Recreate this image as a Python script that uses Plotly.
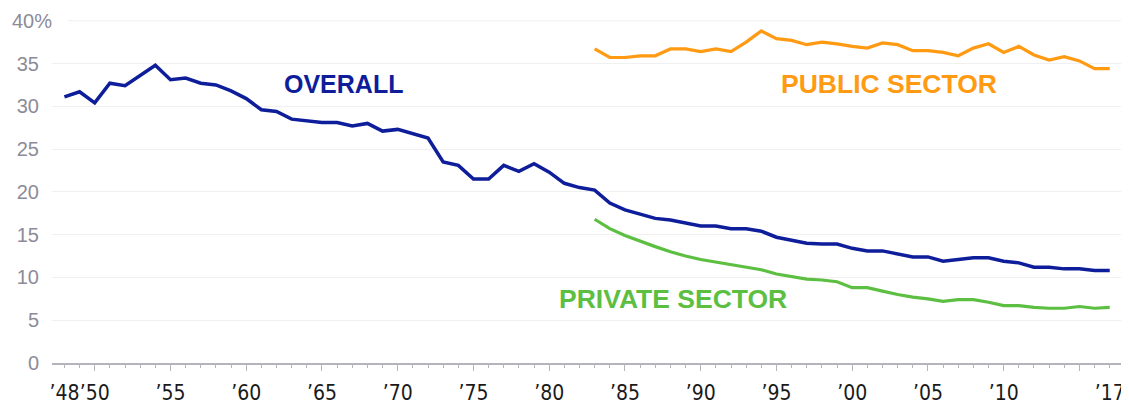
import plotly.graph_objects as go

years = list(range(1948, 2018))
overall = [31.1, 31.7, 30.4, 32.7, 32.4, 33.6, 34.8, 33.1, 33.3, 32.7,
           32.5, 31.8, 30.9, 29.6, 29.4, 28.5, 28.3, 28.1, 28.1, 27.7,
           28.0, 27.1, 27.3, 26.8, 26.3, 23.5, 23.1, 21.5, 21.5, 23.1,
           22.4, 23.3, 22.3, 21.0, 20.5, 20.2, 18.7, 17.9, 17.4, 16.9,
           16.7, 16.3, 16.0, 16.0, 15.7, 15.7, 15.4, 14.7, 14.4, 14.0,
           13.9, 13.9, 13.4, 13.1, 13.1, 12.7, 12.4, 12.4, 11.9, 12.1,
           12.3, 12.3, 11.9, 11.7, 11.2, 11.2, 11.0, 11.0, 10.8, 10.8]
sector_years = list(range(1983, 2018))
public = [36.7, 35.7, 35.7, 35.9, 35.9, 36.7, 36.7, 36.4, 36.7, 36.4,
          37.5, 38.8, 37.9, 37.7, 37.2, 37.5, 37.3, 37.0, 36.8, 37.4,
          37.2, 36.5, 36.5, 36.3, 35.9, 36.8, 37.3, 36.3, 37.0, 36.0,
          35.4, 35.8, 35.3, 34.4, 34.4]
private = [16.8, 15.7, 14.9, 14.2, 13.6, 13.0, 12.5, 12.1, 11.8, 11.5,
           11.2, 10.9, 10.4, 10.1, 9.8, 9.7, 9.5, 8.8, 8.8, 8.4,
           8.0, 7.7, 7.5, 7.2, 7.4, 7.4, 7.1, 6.7, 6.7, 6.5,
           6.4, 6.4, 6.6, 6.4, 6.5]

label_years = [1948, 1950, 1955, 1960, 1965, 1970, 1975, 1980, 1985, 1990,
               1995, 2000, 2005, 2010, 2017]
label_text = ["\u201948", "\u201950", "\u201955", "\u201960", "\u201965", "\u201970",
              "\u201975", "\u201980", "\u201985", "\u201990", "\u201995", "\u201900",
              "\u201905", "\u201910", "\u201917"]
major_tick_years = list(range(1950, 2016, 5))
y_ticks = [0, 5, 10, 15, 20, 25, 30, 35]

C_OVERALL = "#0e1d9a"
C_PUBLIC = "#ff9a12"
C_PRIVATE = "#5dbf42"

fig = go.Figure()
fig.add_trace(go.Scatter(x=years, y=overall, mode="lines",
                         line=dict(color=C_OVERALL, width=3.5), hoverinfo="skip"))
fig.add_trace(go.Scatter(x=sector_years, y=public, mode="lines",
                         line=dict(color=C_PUBLIC, width=3.2), hoverinfo="skip"))
fig.add_trace(go.Scatter(x=sector_years, y=private, mode="lines",
                         line=dict(color=C_PRIVATE, width=3.2), hoverinfo="skip"))
# invisible trace to materialise the tick-only axis
fig.add_trace(go.Scatter(x=[1960], y=[0], xaxis="x2", mode="markers",
                         marker=dict(opacity=0), hoverinfo="skip", showlegend=False))

xr = [1947.18, 2018.14]
fam = "Liberation Sans, Arial, sans-serif"

# page body has an 8px default margin, so the figure is 8px smaller
fig.update_layout(
    width=1121, height=397,
    margin=dict(l=44, r=2, t=11, b=42, autoexpand=False),
    paper_bgcolor="white", plot_bgcolor="white",
    showlegend=False,
    xaxis=dict(range=xr, tickmode="array", tickvals=label_years, ticktext=label_text,
               ticks="outside", ticklen=10, tickcolor="rgba(0,0,0,0)",
               tickangle=0, automargin=False, ticklabeloverflow="allow",
               tickfont=dict(family="DejaVu Sans Condensed, Liberation Sans Narrow, Arial, sans-serif",
                             size=21, color="#1a1a1a"),
               showgrid=False, zeroline=False, showline=True, linecolor="#b4b4bc",
               linewidth=1.5, fixedrange=True),
    xaxis2=dict(range=xr, overlaying="x", anchor="y", side="bottom",
                tickmode="array", tickvals=major_tick_years, ticks="outside",
                ticklen=7, tickcolor="#b4b4bc", tickwidth=1.2, showticklabels=False,
                minor=dict(tickmode="linear", tick0=1948, dtick=1, ticks="outside",
                           ticklen=4, tickcolor="#b4b4bc", tickwidth=1, showgrid=False),
                showgrid=False, zeroline=False, showline=False, automargin=False),
    yaxis=dict(range=[0, 40.2], tickmode="array", tickvals=y_ticks,
               ticktext=[str(v) for v in y_ticks], automargin=False,
               tickfont=dict(family=fam, size=20, color="#8c8b98"),
               ticklabelstandoff=12, showgrid=True, gridcolor="#f0f0f0", gridwidth=1,
               zeroline=False, showline=False, fixedrange=True),
)

fig.add_shape(type="line", xref="paper", yref="y", x0=0.0149, x1=1, y0=40, y1=40,
              line=dict(color="#f0f0f0", width=1), layer="below")
fig.add_annotation(text="40%", xref="paper", yref="y", x=0.0019, y=40,
                   xanchor="right", yanchor="middle", showarrow=False,
                   font=dict(family=fam, size=20, color="#8c8b98"))

fig.add_annotation(text="<b>OVERALL</b>", x=1966.4, y=32.6, showarrow=False,
                   xanchor="center", yanchor="middle",
                   font=dict(color=C_OVERALL, family=fam, size=25))
fig.add_annotation(text="<b>PUBLIC SECTOR</b>", x=2002.4, y=32.6, showarrow=False,
                   xanchor="center", yanchor="middle",
                   font=dict(color=C_PUBLIC, family=fam, size=26.5))
fig.add_annotation(text="<b>PRIVATE SECTOR</b>", x=1988.2, y=7.5, showarrow=False,
                   xanchor="center", yanchor="middle",
                   font=dict(color=C_PRIVATE, family=fam, size=26.5))

fig.write_html("out.html")
